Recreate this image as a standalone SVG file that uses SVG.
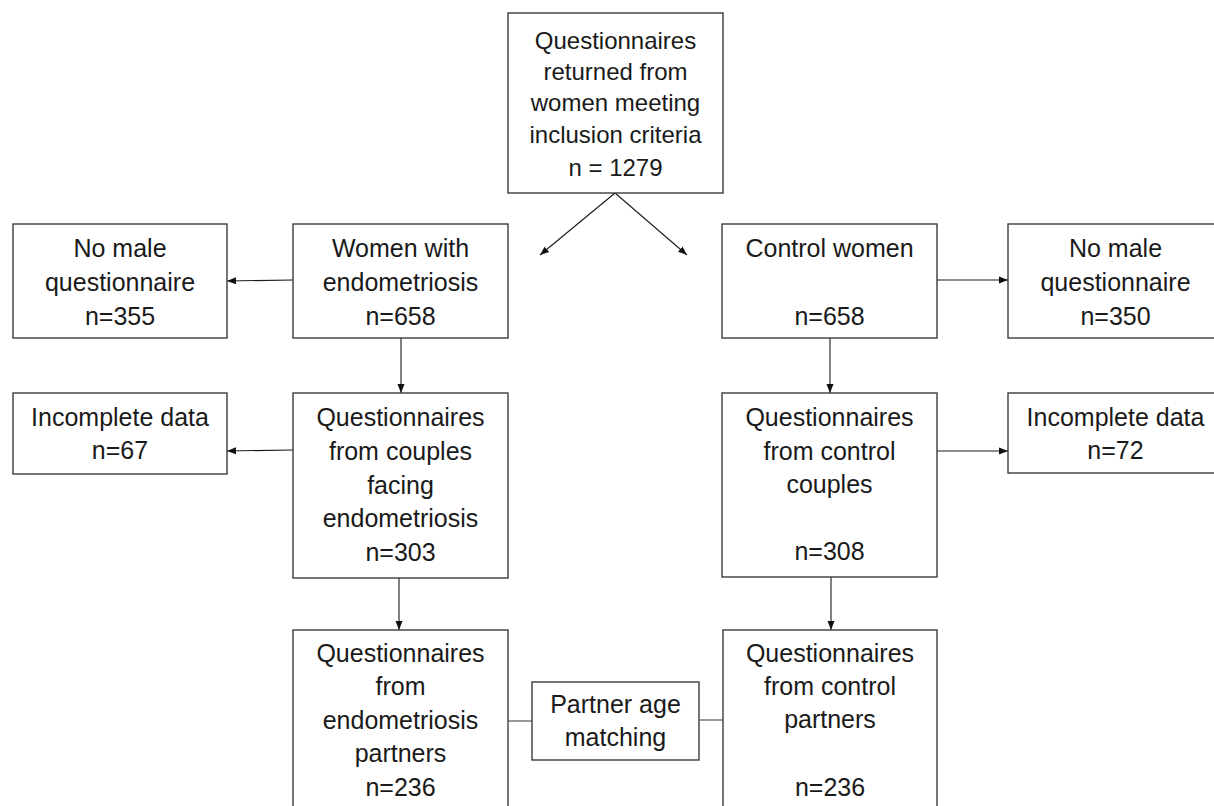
<svg xmlns="http://www.w3.org/2000/svg" width="1214" height="806" viewBox="0 0 1214 806">
<defs>
<marker id="arr" markerUnits="userSpaceOnUse" markerWidth="10" markerHeight="8" refX="9" refY="4" orient="auto">
<path d="M0,0.5 L9,4 L0,7.5 Z" fill="#111"/>
</marker>
<style>
.box{fill:#fff;stroke:#3c3c3c;stroke-width:1.4}
.t{font-family:"Liberation Sans",Arial,sans-serif;font-size:25px;fill:#1a1a1a;text-anchor:middle}
.t24{font-size:24px}
.c{stroke:#1a1a1a;stroke-width:1.1;fill:none}
.m{marker-end:url(#arr)}
.g{stroke:#555;stroke-width:1.2;fill:none}
</style>
</defs>
<rect width="1214" height="806" fill="#fff"/>

<g id="connectors">
<line class="c m" x1="615" y1="193" x2="540" y2="255"/>
<line class="c m" x1="615" y1="193" x2="687" y2="255"/>
<line class="c m" x1="293" y1="280" x2="227" y2="281"/>
<line class="c m" x1="937" y1="280" x2="1008" y2="280"/>
<line class="c m" x1="401" y1="338" x2="401" y2="393"/>
<line class="c m" x1="830" y1="338" x2="830" y2="393"/>
<line class="c m" x1="293" y1="450" x2="227" y2="451"/>
<line class="c m" x1="937" y1="451" x2="1008" y2="451"/>
<line class="c m" x1="399" y1="578" x2="399" y2="630"/>
<line class="c m" x1="831" y1="577" x2="831" y2="630"/>
<line class="g" x1="508" y1="721" x2="532" y2="721"/>
<line class="g" x1="699" y1="720" x2="723" y2="720"/>
</g>

<g id="n_total">
<rect class="box" x="508" y="13" width="215" height="180"/>
<text class="t t24" x="615.5" y="49">Questionnaires</text>
<text class="t t24" x="615.5" y="80">returned from</text>
<text class="t t24" x="615.5" y="111">women meeting</text>
<text class="t t24" x="615.5" y="143">inclusion criteria</text>
<text class="t t24" x="615.5" y="176">n = 1279</text>
</g>

<g id="n_nomale_left">
<rect class="box" x="13" y="224" width="214" height="114"/>
<text class="t" x="120" y="257">No male</text>
<text class="t" x="120" y="291">questionnaire</text>
<text class="t" x="120" y="325">n=355</text>
</g>

<g id="n_endo_women">
<rect class="box" x="293" y="224" width="215" height="114"/>
<text class="t" x="400.5" y="257">Women with</text>
<text class="t" x="400.5" y="291">endometriosis</text>
<text class="t" x="400.5" y="325">n=658</text>
</g>

<g id="n_control_women">
<rect class="box" x="722" y="224" width="215" height="114"/>
<text class="t" x="829.5" y="257">Control women</text>
<text class="t" x="829.5" y="325">n=658</text>
</g>

<g id="n_nomale_right">
<rect class="box" x="1008" y="224" width="215" height="114"/>
<text class="t" x="1115.5" y="257">No male</text>
<text class="t" x="1115.5" y="291">questionnaire</text>
<text class="t" x="1115.5" y="325">n=350</text>
</g>

<g id="n_incomplete_left">
<rect class="box" x="13" y="393" width="214" height="81"/>
<text class="t" x="120" y="426">Incomplete data</text>
<text class="t" x="120" y="459">n=67</text>
</g>

<g id="n_endo_couples">
<rect class="box" x="293" y="393" width="215" height="185"/>
<text class="t" x="400.5" y="426">Questionnaires</text>
<text class="t" x="400.5" y="460">from couples</text>
<text class="t" x="400.5" y="494">facing</text>
<text class="t" x="400.5" y="527">endometriosis</text>
<text class="t" x="400.5" y="561">n=303</text>
</g>

<g id="n_control_couples">
<rect class="box" x="722" y="393" width="215" height="184"/>
<text class="t" x="829.5" y="426">Questionnaires</text>
<text class="t" x="829.5" y="460">from control</text>
<text class="t" x="829.5" y="493">couples</text>
<text class="t" x="829.5" y="560">n=308</text>
</g>

<g id="n_incomplete_right">
<rect class="box" x="1008" y="393" width="215" height="80"/>
<text class="t" x="1115.5" y="426">Incomplete data</text>
<text class="t" x="1115.5" y="459">n=72</text>
</g>

<g id="n_endo_partners">
<rect class="box" x="293" y="630" width="215" height="190"/>
<text class="t" x="400.5" y="662">Questionnaires</text>
<text class="t" x="400.5" y="695">from</text>
<text class="t" x="400.5" y="729">endometriosis</text>
<text class="t" x="400.5" y="762">partners</text>
<text class="t" x="400.5" y="796">n=236</text>
</g>

<g id="n_matching">
<rect class="box" x="532" y="682" width="167" height="78"/>
<text class="t" x="615.5" y="713">Partner age</text>
<text class="t" x="615.5" y="746">matching</text>
</g>

<g id="n_control_partners">
<rect class="box" x="723" y="630" width="214" height="190"/>
<text class="t" x="830" y="662">Questionnaires</text>
<text class="t" x="830" y="695">from control</text>
<text class="t" x="830" y="728">partners</text>
<text class="t" x="830" y="796">n=236</text>
</g>
</svg>
